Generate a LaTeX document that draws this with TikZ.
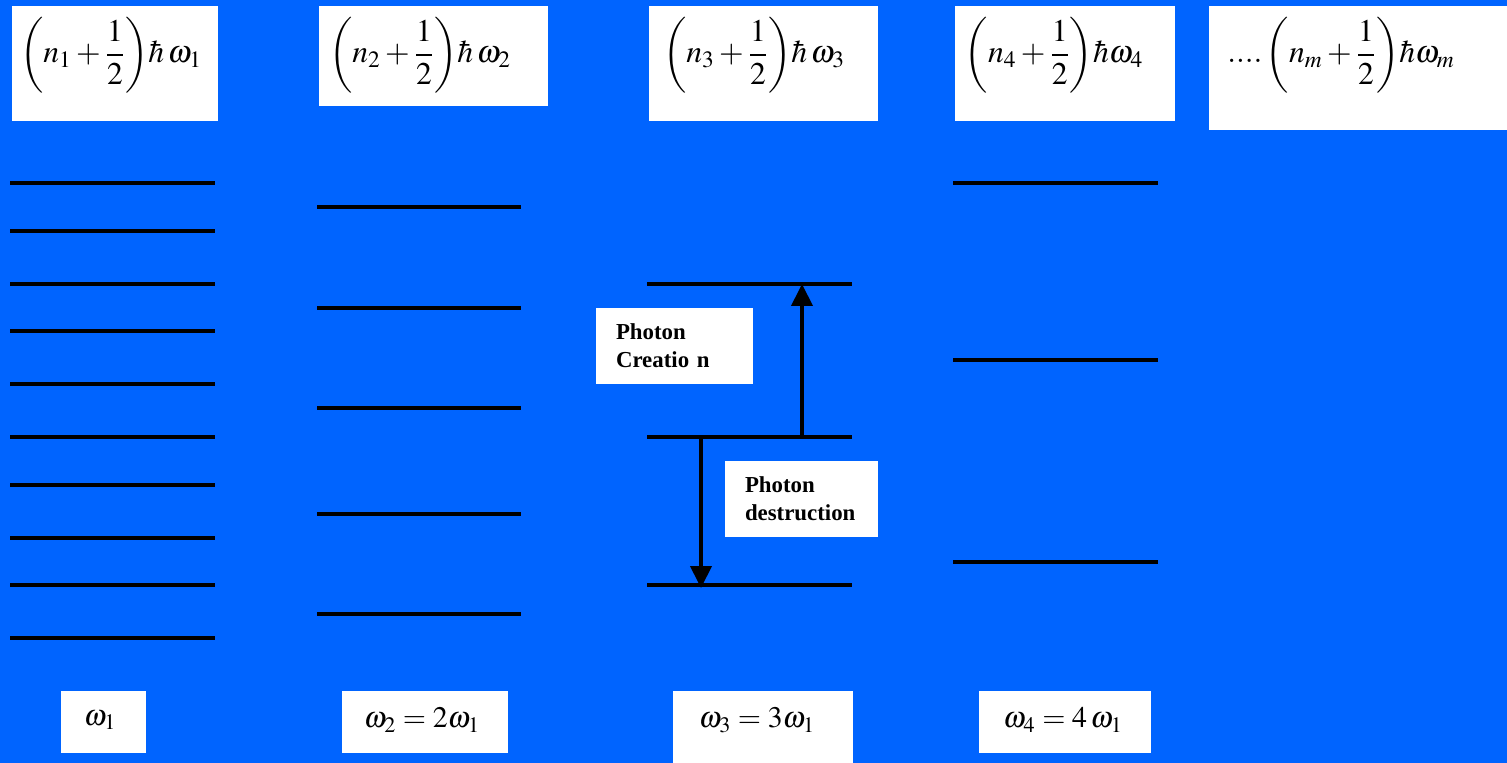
\documentclass[tikz,border=0pt]{standalone}
\usepackage{amsmath}
\usepackage{mathptmx}
\usepackage{fontspec}
\setmainfont{Liberation Serif}
\usetikzlibrary{arrows.meta, positioning}
\definecolor{slideblue}{RGB}{0,100,255}

\begin{document}
\begin{tikzpicture}[x=0.02cm, y=-0.02cm,
    wbox/.style={fill=white, draw=none, inner sep=0pt},
    eqn/.style={font=\fontsize{18}{22}\selectfont, inner sep=0pt},
    freq/.style={font=\fontsize{17}{20}\selectfont, inner sep=0pt},
    lev/.style={line width=0.08cm},
    jump/.style={line width=0.08cm, -{Triangle[width=0.42cm,length=0.44cm]}},
    photon/.style={fill=white, font=\bfseries\fontsize{13}{16}\selectfont,
      align=left, inner xsep=0.4cm, minimum height=1.52cm}]
  % Background
  \fill[slideblue] (0,0) rectangle (1507,763);
  % Top boxes
  \foreach \n/\cx/\cy/\w/\h in {1/115/63.5/4.12/2.30, 2/433.5/56/4.58/2.00,
      3/763.5/63.5/4.58/2.30, 4/1065/63.5/4.40/2.30, 5/1358/68/5.96/2.48}
    \node[wbox, minimum width=\w cm, minimum height=\h cm] (top\n) at (\cx,\cy) {};
  \node[eqn] (eq1) at (111,55) {$\left(n_1+\dfrac{1}{2}\right)\!\hbar\,\omega_1$};
  \node[eqn] (eq2) at (420,55) {$\left(n_2+\dfrac{1}{2}\right)\!\hbar\,\omega_2$};
  \node[eqn] (eq3) at (754,55) {$\left(n_3+\dfrac{1}{2}\right)\!\hbar\,\omega_3$};
  \node[eqn] (eq4) at (1054,55) {$\left(n_4+\dfrac{1}{2}\right)\!\hbar\omega_4$};
  \node[eqn] (eq5) at (1341,55) {$....\left(n_m+\dfrac{1}{2}\right)\!\hbar\omega_m$};
  % Energy levels
  \foreach \y in {183,231,284,331,384,437,485,538,585,638}
    \draw[lev] (10,\y) -- (215,\y);
  \foreach \y in {207,308,408,514,614}
    \draw[lev] (317,\y) -- (521,\y);
  \foreach \y in {284,437,585}
    \draw[lev] (647,\y) -- (852,\y);
  \foreach \y in {183,360,562}
    \draw[lev] (953,\y) -- (1158,\y);
  % Transitions
  \coordinate (up0) at (802,437);
  \coordinate (up1) at (802,284);
  \coordinate (dn0) at (701,437);
  \coordinate (dn1) at (701,588);
  \draw[jump] (up0) -- (up1);
  \draw[jump] (dn0) -- (dn1);
  \node[photon, text width=2.34cm] (create) at (674.5,346) {Photon\\Creatio n};
  \node[photon, text width=2.26cm] (destroy) at (801.5,499) {Photon\\destruction};
  % Bottom boxes
  \node[wbox, minimum width=1.70cm, minimum height=1.24cm] (bot1) at (103.5,722) {};
  \node[wbox, minimum width=3.32cm, minimum height=1.24cm] (bot2) at (425,722) {};
  \node[wbox, minimum width=3.60cm, minimum height=1.44cm] (bot3) at (763,727) {};
  \node[wbox, minimum width=3.44cm, minimum height=1.24cm] (bot4) at (1065,722) {};
  \node[freq] (w1) at (100,720) {$\omega_1$};
  \node[freq] (w2) at (422,720) {$\omega_2=2\omega_1$};
  \node[freq] (w3) at (757,720) {$\omega_3=3\omega_1$};
  \node[freq] (w4) at (1063,720) {$\omega_4=4\,\omega_1$};
\end{tikzpicture}
\end{document}
